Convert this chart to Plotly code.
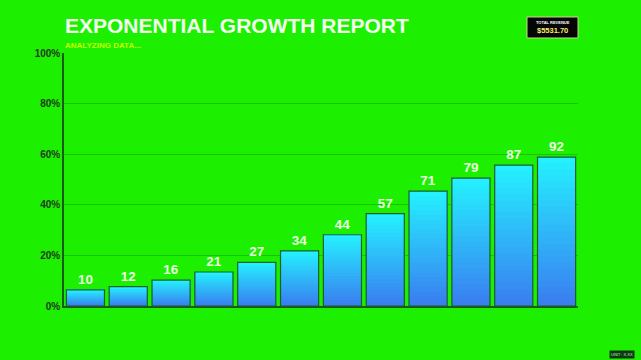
import plotly.graph_objects as go

categories = [str(i) for i in range(1, 13)]
values = [10, 12, 16, 21, 27, 34, 44, 57, 71, 79, 87, 92]
tick_vals_pct = [0, 20, 40, 60, 80, 100]
tick_labels = ["0%", "20%", "40%", "60%", "80%", "100%"]
axis_max = 156.25  # value that maps to 100%
title_text = "EXPONENTIAL GROWTH REPORT"
subtitle_text = "ANALYZING DATA..."
revenue_label = "TOTAL REVENUE"
revenue_value = "$5531.70"
footer_text = "UNIT : X.XX"

BG = "#1cf000"
TOP = (36, 240, 255)
BOT = (58, 126, 240)
N = 24

fig = go.Figure()
for k in range(N):
    t = k / (N - 1)
    c = tuple(round(BOT[i] + (TOP[i] - BOT[i]) * t) for i in range(3))
    fig.add_trace(go.Bar(
        x=categories,
        y=[v * (N - k) / N for v in values],
        base=[v * k / N for v in values],
        marker=dict(color="rgb(%d,%d,%d)" % c, line=dict(width=0)),
        hoverinfo="skip", showlegend=False,
    ))
# outline + labels
fig.add_trace(go.Bar(
    x=categories, y=values,
    marker=dict(color="rgba(0,0,0,0)", line=dict(color="#17602a", width=1.2)),
    text=[str(v) for v in values], textposition="outside",
    textfont=dict(family="Arial, Liberation Sans", size=13.5, color="#eaffe0", weight="bold"),
    cliponaxis=False, showlegend=False,
))

fig.update_layout(
    width=641, height=360,
    margin=dict(l=64, r=63, t=53, b=54),
    paper_bgcolor=BG, plot_bgcolor=BG,
    barmode="overlay", bargap=0.11,
    font=dict(family="Arial, Liberation Sans"),
    xaxis=dict(showticklabels=False, showgrid=False, zeroline=False,
               showline=True, linecolor="#1b5a1b", linewidth=1.5,
               range=[-0.5, 11.5], ticks=""),
    yaxis=dict(range=[0, axis_max],
               tickvals=[p * axis_max / 100 for p in tick_vals_pct],
               ticktext=tick_labels,
               tickfont=dict(size=10, color="#1e3a1e", weight="bold"),
               showgrid=True, gridcolor="rgba(20,90,20,0.3)", gridwidth=1,
               zeroline=False, showline=True, linecolor="#1b5a1b", linewidth=1.5,
               ticks="", ticklen=0),
    showlegend=False,
    shapes=[dict(type="rect", xref="paper", yref="paper",
                 x0=0.9008, x1=1.0, y0=1.0593, y1=1.1423,
                 fillcolor="#050505", line=dict(color="#c8d890", width=1), layer="above")],
)

fig.add_annotation(text=title_text, xref="paper", yref="paper", x=0, y=1,
                   xanchor="left", yanchor="bottom", yshift=14, xshift=-1, showarrow=False,
                   font=dict(size=21, color="#f4fff0", weight="bold"))
fig.add_annotation(text=subtitle_text, xref="paper", yref="paper", x=0, y=1,
                   xanchor="left", yanchor="bottom", yshift=1, xshift=-1, showarrow=False,
                   font=dict(size=8, color="#c6ff00", weight="bold"))
fig.add_annotation(text=revenue_label, xref="paper", yref="paper", x=0.9504, y=1.1186,
                   xanchor="center", yanchor="middle", showarrow=False,
                   font=dict(size=4, color="#ffffff", weight="bold"))
fig.add_annotation(text=revenue_value, xref="paper", yref="paper", x=0.9504, y=1.0889,
                   xanchor="center", yanchor="middle", showarrow=False,
                   font=dict(size=7.5, color="#f5f070", weight="bold"))
fig.add_annotation(text=footer_text, xref="paper", yref="paper", x=1, y=0,
                   xanchor="right", yanchor="top", xshift=57, yshift=-44, showarrow=False,
                   bgcolor="#0c3a10", borderpad=1,
                   font=dict(size=4, color="#d0e0d0"))

fig.write_html("out.html")
